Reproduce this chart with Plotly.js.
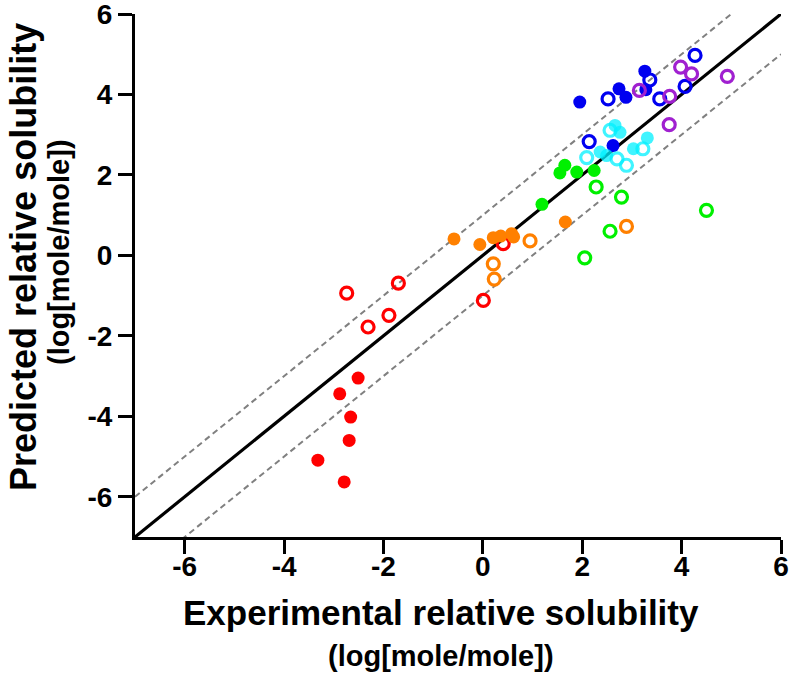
<!DOCTYPE html>
<html>
<head>
<meta charset="utf-8">
<script src="https://cdn.plot.ly/plotly-3.0.1.min.js"></script>
<style>html,body{margin:0;padding:0;background:#fff}#chart{width:792px;height:700px}</style>
</head>
<body>
<div id="chart"></div>
<script>
// ---- Data (experimental x, predicted y) ----
const redFilledX = [-2.51, -2.88, -2.66, -2.69, -3.32, -2.79];
const redFilledY = [-3.05, -3.44, -4.02, -4.60, -5.09, -5.63];
const redOpenX = [-2.74, -1.70, -2.31, -1.89, 0.01, 0.41];
const redOpenY = [-0.94, -0.69, -1.78, -1.49, -1.12, 0.29];

const orangeFilledX = [-0.58, -0.06, 0.21, 0.36, 0.58, 0.62, 1.66];
const orangeFilledY = [0.41, 0.27, 0.44, 0.48, 0.54, 0.46, 0.83];
const orangeOpenX = [0.95, 0.21, 0.23, 2.89];
const orangeOpenY = [0.36, -0.21, -0.59, 0.72];

const greenFilledX = [1.19, 1.55, 1.65, 1.89, 2.24];
const greenFilledY = [1.27, 2.05, 2.24, 2.07, 2.11];
const greenOpenX = [2.28, 2.79, 4.50, 2.56, 2.05];
const greenOpenY = [1.70, 1.45, 1.12, 0.60, -0.06];

const cyanFilledX = [2.66, 2.76, 2.36, 2.49, 3.03, 3.31];
const cyanFilledY = [3.23, 3.06, 2.57, 2.48, 2.65, 2.92];
const cyanOpenX = [2.56, 2.09, 2.70, 2.89, 3.22];
const cyanOpenY = [3.11, 2.43, 2.40, 2.24, 2.65];

const blueFilledX = [1.95, 2.74, 2.88, 3.26, 3.28, 2.62];
const blueFilledY = [3.81, 4.14, 3.93, 4.58, 4.12, 2.73];
const blueOpenX = [2.52, 2.14, 3.36, 3.56, 4.07, 4.27];
const blueOpenY = [3.89, 2.83, 4.36, 3.89, 4.20, 4.97];

const purpleOpenX = [3.15, 3.76, 3.98, 4.20, 4.92, 3.75];
const purpleOpenY = [4.10, 3.95, 4.68, 4.51, 4.45, 3.25];

// Reference lines: y = x and y = x ± 1
const lineX = [-7, 6];
const bandOffset = 1;

// Axis ticks and titles
const tickVals = [-6, -4, -2, 0, 2, 4, 6];
const tickText = ["-6", "-4", "-2", "0", "2", "4", "6"];
const xTitleLines = ["Experimental relative solubility", "(log[mole/mole])"];
const yTitleLines = ["Predicted relative solubility", "(log[mole/mole])"];

const FONT = "Liberation Sans, Arial, sans-serif";
const RED = "#FF0000", ORANGE = "#FF8000", GREEN = "#00F000", CYAN = "rgba(0,240,255,0.75)", BLUE = "#0000F0", PURPLE = "#A020D0";

function filled(x, y, c) {
  return {x: x, y: y, type: "scatter", mode: "markers", showlegend: false, hoverinfo: "skip",
    marker: {symbol: "circle", size: 13, color: c, line: {width: 0}}};
}
function open(x, y, c) {
  return {x: x, y: y, type: "scatter", mode: "markers", showlegend: false, hoverinfo: "skip",
    marker: {symbol: "circle-open", size: 12, color: c, line: {width: 3.2, color: c}}};
}

const traces = [
  {x: lineX, y: lineX.map(v => v + bandOffset), type: "scatter", mode: "lines", showlegend: false,
   line: {color: "#808080", width: 2, dash: "6px,4px"}, hoverinfo: "skip"},
  {x: lineX, y: lineX.map(v => v - bandOffset), type: "scatter", mode: "lines", showlegend: false,
   line: {color: "#808080", width: 2, dash: "6px,4px"}, hoverinfo: "skip"},
  {x: lineX, y: lineX, type: "scatter", mode: "lines", showlegend: false,
   line: {color: "#000000", width: 3.2}, hoverinfo: "skip"},
  open(redOpenX, redOpenY, RED),
  filled(redFilledX, redFilledY, RED),
  filled(orangeFilledX, orangeFilledY, ORANGE),
  open(orangeOpenX, orangeOpenY, ORANGE),
  filled(greenFilledX, greenFilledY, GREEN),
  open(greenOpenX, greenOpenY, GREEN),
  filled(blueFilledX, blueFilledY, BLUE),
  open(blueOpenX, blueOpenY, BLUE),
  open(purpleOpenX, purpleOpenY, PURPLE),
  filled(cyanFilledX, cyanFilledY, CYAN),
  open(cyanOpenX, cyanOpenY, CYAN)
];

const axisCommon = {
  range: [-7, 6], showgrid: false, zeroline: false, showline: true,
  linecolor: "#000", linewidth: 3, ticks: "outside", ticklen: 14, tickwidth: 3, tickcolor: "#000",
  tickmode: "array", tickvals: tickVals, ticktext: tickText, ticklabeloverflow: "allow",
  tickfont: {family: FONT, size: 28, color: "#000", weight: "bold"}
};

// Plot area in px: x 135..781, y 14..537
const PL = 135, PW = 646, PT = 14, PH = 523;
const px2x = p => (p - PL) / PW;
const px2y = p => (PT + PH - p) / PH;

function titleAnn(text, xpx, ypx, size, angle) {
  return {text: text, xref: "paper", yref: "paper", x: px2x(xpx), y: px2y(ypx),
    xanchor: "center", yanchor: "middle", showarrow: false, textangle: angle,
    font: {family: FONT, size: size, color: "#000", weight: "bold"}};
}

const layout = {
  width: 792, height: 700,
  margin: {l: 135, r: 11, t: 14, b: 163},
  paper_bgcolor: "#fff", plot_bgcolor: "#fff",
  xaxis: Object.assign({}, axisCommon, {ticklabelstandoff: -12}),
  yaxis: Object.assign({}, axisCommon, {}),
  annotations: [
    titleAnn(xTitleLines[0], 441, 612, 35, 0),
    titleAnn(xTitleLines[1], 441, 656, 29, 0),
    titleAnn(yTitleLines[0], 23, 257, 36, -90),
    titleAnn(yTitleLines[1], 59, 252, 29, -90)
  ],
  font: {family: FONT}
};

Plotly.newPlot("chart", traces, layout, {staticPlot: true, displayModeBar: false});
</script>
</body>
</html>
